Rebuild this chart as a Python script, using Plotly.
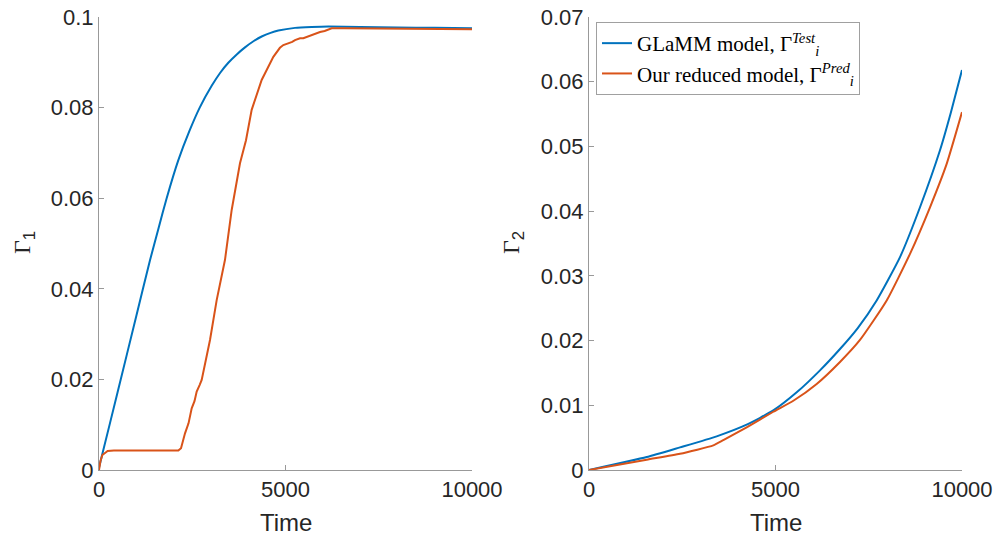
import plotly.graph_objects as go

# ---- data ----
t1_test = [0, 71, 500, 1000, 1367, 1600, 1814, 2127, 2422, 2700, 3021, 3250, 3467, 3700, 3914,
           4150, 4361, 4600, 4808, 5255, 5700, 6148, 7000, 8000, 9000, 10000]
g1_test = [0.0005, 0.0029, 0.0172, 0.0340, 0.0463, 0.0535, 0.0600, 0.0684, 0.0748, 0.0800, 0.0848,
           0.0877, 0.0899, 0.0918, 0.0933, 0.0947, 0.0957, 0.0965, 0.0970, 0.0976, 0.0978, 0.0979,
           0.0978, 0.0977, 0.0976, 0.0975]

t1_pred = [0, 40, 90, 160, 232, 400, 608, 1000, 1500, 2127, 2199, 2306, 2400, 2485, 2560, 2619, 2700, 2753,
           2976, 3155, 3378, 3557, 3780, 3941, 4093, 4361, 4674, 4850, 4942, 5076, 5180, 5255, 5389,
           5478, 5600, 5791, 5925, 6050, 6238, 6595, 8000, 10000]
g1_pred = [0, 0.0020, 0.0033, 0.0038, 0.0042, 0.0043, 0.0043, 0.0043, 0.0043, 0.0043, 0.0048, 0.0081,
           0.0103, 0.0136, 0.0152, 0.0173, 0.0188, 0.0199, 0.0287, 0.0375, 0.0464, 0.0574, 0.0677,
           0.0728, 0.0795, 0.0861, 0.0912, 0.0932, 0.0938, 0.0942, 0.0945, 0.0949, 0.0953, 0.0953,
           0.0957, 0.0964, 0.0967, 0.0969, 0.0975, 0.0975, 0.0974, 0.0973]

t2_test = [0, 1546, 2440, 3423, 4227, 4941, 5568, 6193, 6729, 7200, 7712, 8338, 8874, 9410, 9700, 10000]
g2_test = [0, 0.0020, 0.0035, 0.0052, 0.0070, 0.0092, 0.0120, 0.0154, 0.0187, 0.0219, 0.0262,
           0.0329, 0.0406, 0.0494, 0.0552, 0.0618]

t2_pred = [0, 1546, 2440, 3333, 3601, 4227, 4941, 5478, 6104, 6729, 7265, 7981, 8606, 9142, 9589, 10000]
g2_pred = [0, 0.0016, 0.0025, 0.0038, 0.0046, 0.0066, 0.0090, 0.0107, 0.0133, 0.0167, 0.0201,
           0.0262, 0.0334, 0.0406, 0.0473, 0.0553]

x_ticks = [0, 5000, 10000]
y1_ticks = [0, 0.02, 0.04, 0.06, 0.08, 0.1]
y1_labels = ["0", "0.02", "0.04", "0.06", "0.08", "0.1"]
y2_ticks = [0, 0.01, 0.02, 0.03, 0.04, 0.05, 0.06, 0.07]
y2_labels = ["0", "0.01", "0.02", "0.03", "0.04", "0.05", "0.06", "0.07"]

BLUE = "#0072BD"
ORANGE = "#D95319"
W, H = 1001, 538


def px(xpix):
    return xpix / W


def py(ypix):
    return 1 - ypix / H


fig = go.Figure()
fig.add_trace(go.Scatter(x=t1_test, y=g1_test, mode="lines",
                         line=dict(color=BLUE, width=2, shape="spline", smoothing=0.5),
                         xaxis="x", yaxis="y", showlegend=False))
fig.add_trace(go.Scatter(x=t1_pred, y=g1_pred, mode="lines", line=dict(color=ORANGE, width=2),
                         xaxis="x", yaxis="y", showlegend=False))
fig.add_trace(go.Scatter(x=t2_test, y=g2_test, mode="lines",
                         line=dict(color=BLUE, width=2, shape="spline", smoothing=0.5),
                         xaxis="x2", yaxis="y2",
                         name="GLaMM model, Γ<sup><i>Test</i></sup><sub><i>i</i></sub>"))
fig.add_trace(go.Scatter(x=t2_pred, y=g2_pred, mode="lines",
                         line=dict(color=ORANGE, width=2, shape="spline", smoothing=0.5),
                         xaxis="x2", yaxis="y2",
                         name="Our reduced model, Γ<sup><i>Pred</i></sup><sub><i>i</i></sub>"))

axcol = "#999999"
tickfont = dict(family="Liberation Sans, Arial", size=22, color="#262626")
common = dict(showgrid=False, zeroline=False, showline=True, linecolor=axcol, linewidth=1,
              ticks="inside", ticklen=5, tickcolor=axcol, tickfont=tickfont, mirror=False,
              automargin=False)

xd1 = [px(99), px(472)]
xd2 = [px(589), px(962)]
yd = [py(470), py(17)]

fig.update_layout(
    width=W, height=H,
    margin=dict(l=0, r=0, t=0, b=0, autoexpand=False),
    paper_bgcolor="white", plot_bgcolor="white",
    xaxis=dict(domain=xd1, range=[0, 10000], tickvals=x_ticks, ticktext=[str(v) for v in x_ticks],
               anchor="y", **common),
    yaxis=dict(domain=yd, range=[0, 0.1], tickvals=y1_ticks, ticktext=y1_labels, anchor="x", **common),
    xaxis2=dict(domain=xd2, range=[0, 10000], tickvals=x_ticks, ticktext=[str(v) for v in x_ticks],
                anchor="y2", **common),
    yaxis2=dict(domain=yd, range=[0, 0.07], tickvals=y2_ticks, ticktext=y2_labels, anchor="x2", **common),
    legend=dict(x=px(596), y=py(22), xanchor="left", yanchor="top",
                bgcolor="white", bordercolor="#a0a0a0", borderwidth=1,
                font=dict(family="Liberation Serif, Times New Roman, serif", size=21, color="black"),
                tracegroupgap=0, itemwidth=30),
)

labfont = dict(family="Liberation Sans, Arial", size=24, color="#262626")
ann = [
    dict(text="Time", x=px((99 + 472) / 2), y=py(522), xref="paper", yref="paper",
         showarrow=False, font=labfont, xanchor="center", yanchor="middle"),
    dict(text="Time", x=px((589 + 962) / 2), y=py(522), xref="paper", yref="paper",
         showarrow=False, font=labfont, xanchor="center", yanchor="middle"),
    dict(text="<span style='font-family:Liberation Serif'>Γ</span><sub>1</sub>", x=px(24), y=py(243),
         xref="paper", yref="paper", showarrow=False, font=labfont, textangle=-90,
         xanchor="center", yanchor="middle"),
    dict(text="<span style='font-family:Liberation Serif'>Γ</span><sub>2</sub>", x=px(513), y=py(243),
         xref="paper", yref="paper", showarrow=False, font=labfont, textangle=-90,
         xanchor="center", yanchor="middle"),
]
fig.update_layout(annotations=ann)

fig.write_html("out.html", config={"displayModeBar": False},
               post_script="document.body.style.margin='0px';document.body.style.overflow='hidden';")
